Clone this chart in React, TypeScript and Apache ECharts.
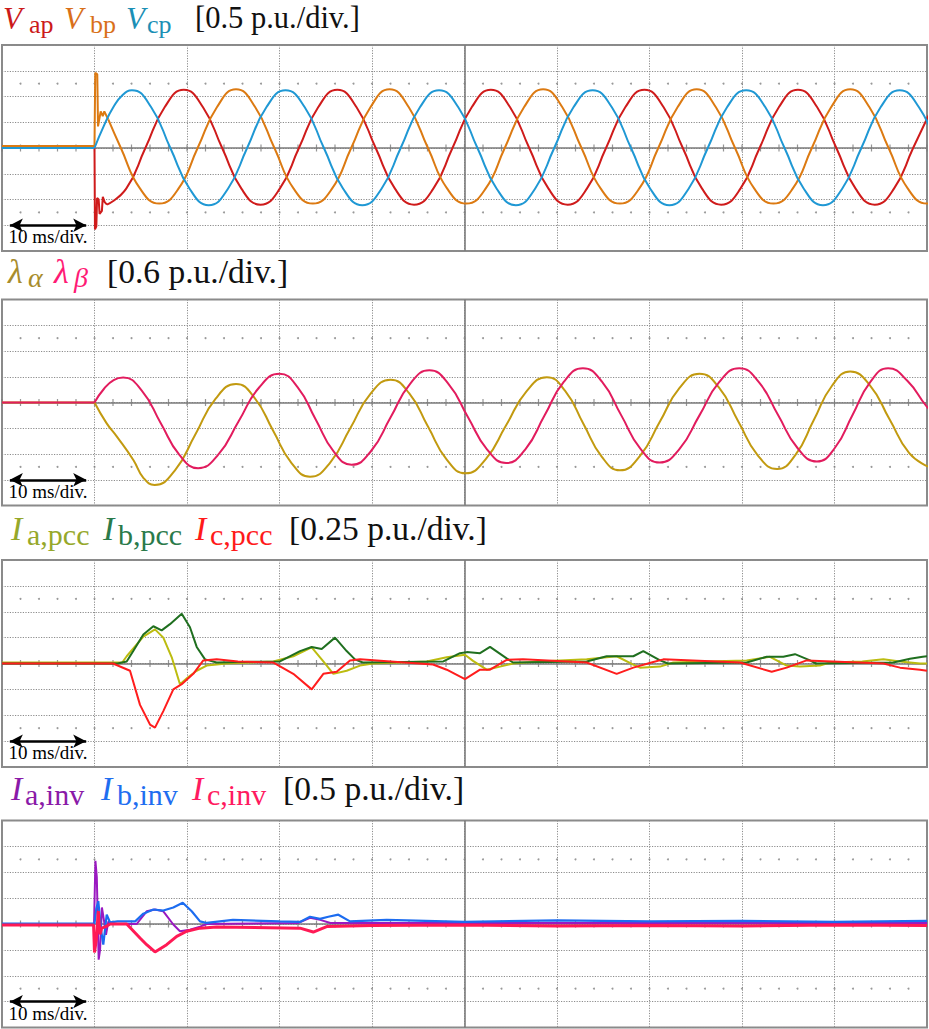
import React, { useEffect, useRef } from "react";
import * as echarts from "echarts";

const FONT = "Liberation Serif, Times New Roman, serif";

// p.u. per division for each panel
const scales = [0.5, 0.6, 0.25, 0.5];

// ---------- Panel 1 : V_ap, V_bp, V_cp (p.u. vs ms) ----------
const vapPreT = [0, 10.0, 10.05, 10.2, 10.28, 10.45, 10.55, 10.8, 10.9, 11.1, 11.35];
const vapPreV = [0, 0, -1.58, -1.52, -0.97, -1.0, -1.28, -1.22, -0.95, -1.05, -1.1];
const vapT = [11.35, 13.43, 15.5, 17.58, 19.65, 21.73, 23.8, 25.88, 27.95, 30.03, 32.1, 34.18, 36.25, 38.33, 40.4, 42.48, 44.55, 46.63, 48.7, 50.78, 52.85, 54.93, 57.0, 59.08, 61.15, 63.23, 65.3, 67.38, 69.45, 71.53, 73.6, 75.68, 77.75, 79.83, 81.9, 83.98, 86.05, 88.13, 90.2, 92.28, 94.35, 96.43, 98.5, 100.58];
const vapV = [-1.1, -0.79, 0, 0.79, 1.13, 0.79, 0, -0.79, -1.1, -0.79, 0, 0.79, 1.13, 0.79, 0, -0.79, -1.1, -0.79, 0, 0.79, 1.13, 0.79, 0, -0.79, -1.1, -0.79, 0, 0.79, 1.13, 0.79, 0, -0.79, -1.1, -0.79, 0, 0.79, 1.13, 0.79, 0, -0.79, -1.1, -0.79, 0, 0.79];

const vbpPreT = [0, 10.0, 10.08, 10.3, 10.38, 10.67, 10.89, 11.06, 11.5];
const vbpPreV = [0.04, 0.04, 1.46, 1.43, 0.42, 0.71, 0.62, 0.71, 0.55];
const vbpT = [11.5, 12.85, 14.93, 17.0, 19.08, 21.15, 23.23, 25.3, 27.38, 29.45, 31.53, 33.6, 35.68, 37.75, 39.83, 41.9, 43.98, 46.05, 48.13, 50.2, 52.28, 54.35, 56.43, 58.5, 60.58, 62.65, 64.73, 66.8, 68.88, 70.95, 73.03, 75.1, 77.18, 79.25, 81.33, 83.4, 85.48, 87.55, 89.63, 91.7, 93.78, 95.85, 97.93, 100.0, 102.08];
const vbpV = [0.55, 0, -0.79, -1.08, -0.79, 0, 0.79, 1.14, 0.79, 0, -0.79, -1.08, -0.79, 0, 0.79, 1.14, 0.79, 0, -0.79, -1.08, -0.79, 0, 0.79, 1.14, 0.79, 0, -0.79, -1.08, -0.79, 0, 0.79, 1.14, 0.79, 0, -0.79, -1.08, -0.79, 0, 0.79, 1.14, 0.79, 0, -0.79, -1.08, -0.79];

const vcpPreT = [0, 10];
const vcpPreV = [0, 0];
const vcpT = [10, 11.01, 12.03, 13.04, 14.05, 16.13, 18.2, 20.28, 22.35, 24.43, 26.5, 28.58, 30.65, 32.73, 34.8, 36.88, 38.95, 41.03, 43.1, 45.18, 47.25, 49.33, 51.4, 53.48, 55.55, 57.63, 59.7, 61.78, 63.85, 65.93, 68.0, 70.08, 72.15, 74.23, 76.3, 78.38, 80.45, 82.53, 84.6, 86.68, 88.75, 90.83, 92.9, 94.98, 97.05, 99.13, 101.2];
const vcpV = [0, 0.43, 0.79, 1.03, 1.12, 0.79, 0, -0.79, -1.11, -0.79, 0, 0.79, 1.12, 0.79, 0, -0.79, -1.11, -0.79, 0, 0.79, 1.12, 0.79, 0, -0.79, -1.11, -0.79, 0, 0.79, 1.12, 0.79, 0, -0.79, -1.11, -0.79, 0, 0.79, 1.12, 0.79, 0, -0.79, -1.11, -0.79, 0, 0.79, 1.12, 0.79, 0];

// ---------- Panel 2 : lambda_alpha, lambda_beta ----------
const laPreT = [0, 10];
const laPreV = [0, 0];
const laT = [10, 11.3, 12.4, 14.2, 15.3, 16.5, 18.7, 20.9, 23.1, 25.3, 27.3, 29.3, 31.3, 33.3, 35.48, 37.65, 39.83, 42.0, 44.03, 46.05, 48.08, 50.1, 52.3, 54.5, 56.7, 58.9, 60.88, 62.85, 64.83, 66.8, 68.95, 71.1, 73.25, 75.4, 77.5, 79.6, 81.7, 83.8, 85.78, 87.75, 89.73, 91.7, 93.83, 95.95, 98.08, 100.2];
const laV = [0, -0.48, -0.79, -1.34, -1.76, -1.92, -1.58, -0.745, 0.09, 0.43, 0.11, -0.65, -1.41, -1.73, -1.4, -0.6, 0.2, 0.53, 0.21, -0.56, -1.33, -1.65, -1.32, -0.53, 0.26, 0.59, 0.27, -0.495, -1.26, -1.58, -1.25, -0.455, 0.34, 0.67, 0.35, -0.44, -1.23, -1.55, -1.22, -0.415, 0.39, 0.72, 0.4, -0.39, -1.18, -1.5];

const lbPreT = [0, 10];
const lbPreV = [0, 0];
const lbT = [10, 11.03, 12.07, 13.1, 15.13, 17.15, 19.18, 21.2, 23.4, 25.6, 27.8, 30.0, 31.95, 33.9, 35.85, 37.8, 39.9, 42.0, 44.1, 46.2, 48.28, 50.35, 52.43, 54.5, 56.58, 58.65, 60.73, 62.8, 64.88, 66.95, 69.03, 71.1, 73.25, 75.4, 77.55, 79.7, 81.8, 83.9, 86.0, 88.1, 90.03, 91.95, 93.88, 95.8, 97.9, 100.0, 102];
const lbV = [0, 0.32, 0.52, 0.58, 0.27, -0.475, -1.22, -1.53, -1.21, -0.43, 0.35, 0.67, 0.36, -0.39, -1.14, -1.45, -1.13, -0.35, 0.43, 0.75, 0.43, -0.33, -1.09, -1.41, -1.09, -0.305, 0.48, 0.8, 0.48, -0.3, -1.08, -1.4, -1.08, -0.3, 0.48, 0.8, 0.48, -0.29, -1.06, -1.375, -1.06, -0.29, 0.48, 0.8, 0.5, -0.1, -0.5];

// ---------- Panel 3 : I_a,pcc, I_b,pcc, I_c,pcc ----------
const iapT = [0, 13.0, 13.48, 15.28, 16.54, 17.44, 18.35, 19.24, 20.14, 21.05, 22.13, 24.29, 29.33, 31.49, 33.48, 34.74, 35.82, 37.26, 38.7, 40.11, 45.91, 48.08, 50.05, 50.92, 52.4, 53.84, 55.24, 58, 63.21, 66.45, 68.25, 68.97, 71.14, 72.57, 76, 80.5, 83.03, 84.83, 86.27, 88.43, 89.51, 93, 95.28, 97.08, 99.24, 100];
const iapV = [0.01, 0.01, 0.07, 0.26, 0.33, 0.25, 0.06, -0.2, -0.13, -0.07, -0.02, 0, 0.02, 0.07, 0.155, 0.02, -0.1, -0.07, -0.02, 0, 0.02, 0.06, 0.085, 0.025, -0.06, -0.03, 0, 0.02, 0.04, 0.07, -0.01, -0.04, -0.03, 0.01, 0.02, 0.03, 0.065, -0.02, -0.03, -0.02, 0.01, 0.02, 0.04, 0.02, 0, 0];

const ibpT = [0, 12.5, 13.48, 14.19, 15.28, 16.36, 17.26, 18.16, 19.43, 20.32, 21.05, 21.95, 23.21, 30.05, 32.22, 33.48, 34.56, 36.0, 37.26, 38.16, 39.0, 47.71, 49.51, 50.24, 51.68, 52.76, 54.56, 55.24, 63.21, 65.37, 68.25, 69.33, 71.14, 72.0, 80.51, 82.67, 84.46, 85.73, 87.35, 88.0, 96.36, 98.16, 99.54, 100];
const ibpV = [0, 0, 0.02, 0.12, 0.28, 0.36, 0.32, 0.38, 0.48, 0.35, 0.16, 0.04, 0.01, 0.02, 0.12, 0.16, 0.14, 0.25, 0.12, 0.04, 0.01, 0.02, 0.1, 0.11, 0.1, 0.16, 0.05, 0.01, 0.02, 0.07, 0.07, 0.12, 0.03, 0, 0.01, 0.065, 0.065, 0.09, 0.03, 0, 0.01, 0.045, 0.065, 0.07];

const icpT = [0, 12.0, 13.84, 14.92, 16.0, 16.54, 17.44, 18.52, 19.43, 20.68, 21.76, 23.21, 25.5, 29.3, 31.49, 33.48, 34.74, 36.18, 37.62, 38.7, 42.0, 46.6, 48.08, 50.05, 51.68, 52.76, 54.56, 56.32, 63.21, 66.45, 68.25, 70.41, 71.49, 79.78, 83.21, 84.83, 86.99, 95.28, 97.08, 99.24, 100];
const icpV = [0, 0, -0.07, -0.4, -0.59, -0.62, -0.46, -0.25, -0.2, -0.1, 0.03, 0.04, 0.02, 0.01, -0.1, -0.25, -0.1, -0.08, 0.03, 0.04, 0.02, -0.01, -0.06, -0.15, -0.06, -0.06, 0.035, 0.04, 0.01, -0.1, -0.04, 0.015, 0.04, 0.01, -0.08, -0.04, 0.03, 0, -0.04, -0.06, -0.07];

// ---------- Panel 4 : I_a,inv, I_b,inv, I_c,inv ----------
const iaiT = [0, 9.95, 10.1, 10.25, 10.45, 10.6, 10.8, 11.0, 11.24, 11.5, 11.7, 14.56, 15.64, 16.54, 17.44, 18.52, 19.24, 20.32, 21.41, 22.13, 32.0, 33.3, 34.4, 35.5, 100];
const iaiV = [0, 0, 1.22, 0.9, -0.69, -0.5, 0.32, 0.1, -0.21, 0.05, 0, 0, 0.245, 0.28, 0.245, -0.01, -0.14, -0.11, -0.05, 0, 0.02, 0.12, 0.08, 0.02, 0.02];

const ibiT = [0, 10.0, 10.2, 10.41, 10.7, 10.95, 11.32, 11.68, 12.5, 14.4, 15.28, 16.36, 17.44, 18.52, 19.54, 20.51, 21.41, 22.13, 24.97, 30, 32.22, 33.3, 34.38, 35.28, 36.36, 37.62, 41.59, 50, 60, 70, 80, 90, 100];
const ibiV = [0.01, 0.01, 0.3, 0.44, -0.1, -0.4, 0.18, 0.03, 0.05, 0.05, 0.2, 0.28, 0.26, 0.32, 0.41, 0.245, 0.05, 0.02, 0.08, 0.05, 0.04, 0.14, 0.1, 0.14, 0.18, 0.05, 0.08, 0.04, 0.07, 0.05, 0.06, 0.04, 0.06];

const iciT = [0, 9.9, 10.0, 10.2, 10.41, 10.6, 10.78, 11.2, 11.7, 13.48, 14.92, 15.64, 16.54, 17.8, 18.89, 19.97, 21.41, 23.21, 32.22, 33.65, 35.1, 40, 50, 60, 70, 80, 90, 100];
const iciV = [-0.02, -0.02, -0.55, -0.3, 0.25, -0.2, -0.08, -0.05, 0, 0, -0.27, -0.4, -0.54, -0.4, -0.24, -0.14, -0.08, -0.06, -0.08, -0.155, -0.05, -0.03, -0.02, -0.04, -0.03, -0.04, -0.02, -0.03];

// ---------- Titles (text, x, baseline, size, italic, color) ----------
type Seg = [string, number, number, number, boolean, string];
const titleSegs: Seg[] = [
  ["V", 3, 28.5, 31, true, "#cc1a1a"],
  ["ap", 29, 33, 26, false, "#cc1a1a"],
  ["V", 64, 28.5, 31, true, "#d9701a"],
  ["bp", 90, 33, 26, false, "#d9701a"],
  ["V", 126, 28.5, 31, true, "#1b8fb5"],
  ["cp", 147, 33, 26, false, "#1b8fb5"],
  ["[0.5 p.u./div.]", 195, 28, 30.5, false, "#111111"],
  ["λ", 8, 283, 34, true, "#a88c2c"],
  ["α", 28, 287, 28, true, "#a88c2c"],
  ["λ", 54, 283, 34, true, "#ff1a75"],
  ["β", 74, 287, 28, true, "#ff1a75"],
  ["[0.6 p.u./div.]", 107, 283, 33.5, false, "#111111"],
  ["I", 11, 540, 34, true, "#96a82a"],
  ["a,pcc", 27, 545, 30, false, "#96a82a"],
  ["I", 103, 540, 34, true, "#2a7a4a"],
  ["b,pcc", 118, 545, 30, false, "#2a7a4a"],
  ["I", 195, 540, 34, true, "#ff1a1a"],
  ["c,pcc", 210, 545, 30, false, "#ff1a1a"],
  ["[0.25 p.u./div.]", 289, 540, 33.5, false, "#111111"],
  ["I", 11, 800, 34, true, "#8a1aa8"],
  ["a,inv", 25, 805, 30, false, "#8a1aa8"],
  ["I", 101, 800, 34, true, "#1f6ef0"],
  ["b,inv", 117, 805, 30, false, "#1f6ef0"],
  ["I", 192, 800, 34, true, "#ff1a60"],
  ["c,inv", 207, 805, 30, false, "#ff1a60"],
  ["[0.5 p.u./div.]", 283, 800, 33.5, false, "#111111"],
];

const gridTops = [45, 299.5, 560, 820.5];
const gridHeights = [206, 206, 207, 207];

const pairs = (t: number[], v: number[]) => t.map((x, i) => [x, v[i]]);

function lineSeries(g: number, t: number[], v: number[], color: string, smooth: boolean, width = 2) {
  return {
    type: "line",
    xAxisIndex: g,
    yAxisIndex: g,
    data: pairs(t, v),
    smooth: smooth ? 0.5 : false,
    showSymbol: false,
    symbol: "none",
    lineStyle: { color, width },
    itemStyle: { color },
    silent: true,
    clip: true,
    z: 3,
  };
}

function decorSeries(g: number) {
  const s = scales[g];
  const ticks: number[][] = [];
  for (let k = 0; k <= 50; k++) ticks.push([2 * k, 0]);
  const dots: number[][] = [];
  for (let k = 1; k < 50; k++) {
    dots.push([2 * k, 2.5 * s]);
    dots.push([2 * k, -2.5 * s]);
  }
  return [
    {
      type: "scatter",
      xAxisIndex: g,
      yAxisIndex: g,
      silent: true,
      z: 1,
      symbol: "rect",
      symbolSize: [1.2, 7],
      itemStyle: { color: "#7a7a7a" },
      data: ticks,
      markLine: {
        silent: true,
        symbol: "none",
        z: 1,
        lineStyle: { color: "#7b7b7b", width: 1.6, type: "solid" },
        label: { show: false },
        emphasis: { disabled: true },
        data: [{ yAxis: 0 }, { xAxis: 50 }],
      },
    },
    {
      type: "scatter",
      xAxisIndex: g,
      yAxisIndex: g,
      silent: true,
      z: 1,
      symbol: "circle",
      symbolSize: 2,
      itemStyle: { color: "#808080" },
      data: dots,
      markLine: {
        silent: true,
        symbol: ["arrow", "arrow"],
        symbolSize: [10, 13],
        z: 4,
        lineStyle: { color: "#000000", width: 2.6, type: "solid" },
        emphasis: { disabled: true },
        label: {
          show: true,
          position: "insideMiddleBottom",
          formatter: "10 ms/div.",
          color: "#000000",
          fontFamily: FONT,
          fontSize: 19,
          distance: 2,
        },
        data: [[{ coord: [0.85, -3 * s] }, { coord: [9.1, -3 * s] }]],
      },
    },
  ];
}

function buildOption() {
  const grid = gridTops.map((top, i) => ({
    left: 2,
    top,
    width: 925,
    height: gridHeights[i],
    show: true,
    borderColor: "#8a8a8a",
    borderWidth: 2,
    backgroundColor: "transparent",
  }));
  const split = { show: true, lineStyle: { color: "#8c8c8c", width: 1, type: [1.2, 1.4] } };
  const xAxis = scales.map((_, i) => ({
    gridIndex: i,
    type: "value",
    min: 0,
    max: 100,
    interval: 10,
    axisLine: { show: false },
    axisTick: { show: false },
    axisLabel: { show: false },
    splitLine: split,
  }));
  const yAxis = scales.map((s, i) => ({
    gridIndex: i,
    type: "value",
    min: -4 * s,
    max: 4 * s,
    interval: s,
    axisLine: { show: false },
    axisTick: { show: false },
    axisLabel: { show: false },
    splitLine: split,
  }));

  const series: any[] = [];
  for (let g = 0; g < 4; g++) series.push(...decorSeries(g));

  // panel 1
  series.push(lineSeries(0, vapPreT, vapPreV, "#cf1b1b", false));
  series.push(lineSeries(0, vapT, vapV, "#cf1b1b", true));
  series.push(lineSeries(0, vbpPreT, vbpPreV, "#dc7a12", false));
  series.push(lineSeries(0, vbpT, vbpV, "#dc7a12", true));
  series.push(lineSeries(0, vcpPreT, vcpPreV, "#1f98d4", false));
  series.push(lineSeries(0, vcpT, vcpV, "#1f98d4", true));
  // panel 2
  series.push(lineSeries(1, laPreT, laPreV, "#c29a10", false));
  series.push(lineSeries(1, laT, laV, "#c29a10", true));
  series.push(lineSeries(1, lbPreT, lbPreV, "#e21c5e", false));
  series.push(lineSeries(1, lbT, lbV, "#e21c5e", true));
  // panel 3
  series.push(lineSeries(2, iapT, iapV, "#bcbc10", false));
  series.push(lineSeries(2, ibpT, ibpV, "#1f6f1f", false));
  series.push(lineSeries(2, icpT, icpV, "#ff1d1d", false));
  // panel 4
  series.push(lineSeries(3, iaiT, iaiV, "#9a18c0", false));
  series.push(lineSeries(3, ibiT, ibiV, "#1c6cf0", false, 2.2));
  series.push(lineSeries(3, iciT, iciV, "#ff1a55", false, 3));

  const graphic = titleSegs.map(([text, x, base, size, italic, color]) => ({
    type: "text",
    x,
    y: base - 0.3375 * size,
    silent: true,
    style: {
      text,
      fill: color,
      font: `${italic ? "italic " : ""}${size}px ${FONT}`,
      align: "left",
      verticalAlign: "middle",
    },
  }));

  return {
    animation: false,
    backgroundColor: "#ffffff",
    grid,
    xAxis,
    yAxis,
    series,
    graphic: { elements: graphic },
  };
}

export default function App() {
  const ref = useRef<HTMLDivElement>(null);
  useEffect(() => {
    if (!ref.current) return;
    const chart = echarts.init(ref.current, undefined, { renderer: "svg" });
    chart.setOption(buildOption() as any);
    return () => chart.dispose();
  }, []);
  return (
    <div
      ref={ref}
      style={{ position: "absolute", left: 0, top: 0, width: 929, height: 1029, background: "#fff" }}
    />
  );
}
